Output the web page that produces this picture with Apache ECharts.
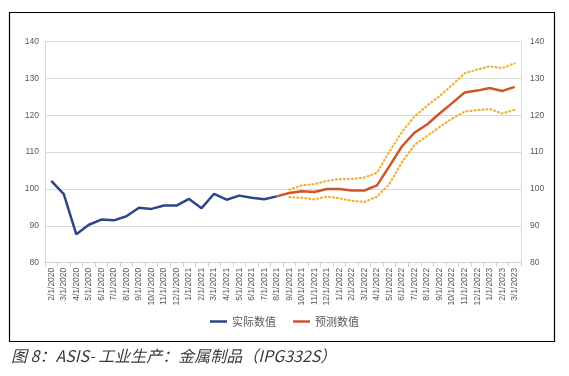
<!DOCTYPE html>
<html>
<head>
<meta charset="utf-8">
<script src="https://cdn.jsdelivr.net/npm/echarts@6/dist/echarts.min.js"></script>
<style>
  html, body { margin: 0; padding: 0; background: #fff; }
  #main { width: 569px; height: 376px; }
</style>
</head>
<body>
<div id="main"></div>
<script>
const months = [
  '2/1/2020', '3/1/2020', '4/1/2020', '5/1/2020', '6/1/2020', '7/1/2020', '8/1/2020', '9/1/2020',
  '10/1/2020', '11/1/2020', '12/1/2020', '1/1/2021', '2/1/2021', '3/1/2021', '4/1/2021', '5/1/2021',
  '6/1/2021', '7/1/2021', '8/1/2021', '9/1/2021', '10/1/2021', '11/1/2021', '12/1/2021', '1/1/2022',
  '2/1/2022', '3/1/2022', '4/1/2022', '5/1/2022', '6/1/2022', '7/1/2022', '8/1/2022', '9/1/2022',
  '10/1/2022', '11/1/2022', '12/1/2022', '1/1/2023', '2/1/2023', '3/1/2023'
]

// 实际数值 (2/2020 - 8/2021)
const actual = [
  102.2, 98.6, 87.7, 90.3, 91.7, 91.5, 92.6, 94.9, 94.6, 95.5, 95.5, 97.3, 94.8, 98.7, 97.1, 98.2,
  97.6, 97.2, 98.0, null, null, null, null, null, null, null, null, null, null, null, null, null,
  null, null, null, null, null, null
]

// 预测数值 (8/2021 - 3/2023)
const forecast = [
  null, null, null, null, null, null, null, null, null, null, null, null, null, null, null, null,
  null, null, 98.0, 98.9, 99.4, 99.2, 100.0, 100.0, 99.6, 99.6, 101.0, 106.2, 111.6, 115.3, 117.5, 120.5,
  123.3, 126.2, 126.7, 127.4, 126.6, 127.7
]

const upper = [
  null, null, null, null, null, null, null, null, null, null, null, null, null, null, null, null,
  null, null, null, 99.8, 101.0, 101.3, 102.2, 102.7, 102.7, 103.1, 104.4, 110.2, 115.5, 119.7, 122.6, 125.2,
  128.2, 131.4, 132.4, 133.3, 132.8, 134.1
]

const lower = [
  null, null, null, null, null, null, null, null, null, null, null, null, null, null, null, null,
  null, null, null, 97.8, 97.6, 97.2, 97.9, 97.5, 96.8, 96.5, 97.9, 101.4, 107.3, 112.0, 114.4, 116.8,
  119.1, 121.0, 121.4, 121.7, 120.5, 121.5
]

const chart = echarts.init(document.getElementById('main'))

const axisLabelStyle = {
  color: '#595959',
  fontSize: 8.5,
  fontFamily: 'Liberation Sans'
}

const option = {
  animation: false,
  title: {
    text: '图 8：ASIS- 工业生产：金属制品（IPG332S）',
    left: 6,
    top: 343,
    textStyle: {
      fontSize: 16,
      fontStyle: 'italic',
      fontWeight: 'normal',
      color: '#3a3a3a',
      fontFamily: 'Noto Sans CJK SC'
    }
  },
  graphic: [
    {
      type: 'rect',
      shape: { x: 9.5, y: 12.5, width: 545, height: 329 },
      style: { fill: null, stroke: '#000', lineWidth: 1.2 },
      silent: true
    }
  ],
  legend: {
    data: ['实际数值', '预测数值'],
    left: 'center',
    top: 311,
    icon: 'rect',
    itemWidth: 17,
    itemHeight: 2.5,
    itemGap: 17,
    textStyle: { fontSize: 11, color: '#595959', fontFamily: 'Noto Sans CJK SC' }
  },
  grid: {
    left: 45,
    right: 48,
    top: 41.6,
    bottom: 113.3
  },
  xAxis: {
    type: 'category',
    data: months,
    boundaryGap: true,
    axisLine: { lineStyle: { color: '#d0d0d0' } },
    axisTick: { show: true, length: 4, lineStyle: { color: '#d0d0d0' } },
    axisLabel: Object.assign({ rotate: 90, interval: 0, margin: 5 }, axisLabelStyle)
  },
  yAxis: [
    {
      type: 'value',
      min: 80,
      max: 140,
      interval: 10,
      position: 'left',
      axisLine: { show: true, lineStyle: { color: '#d9d9d9' } },
      axisTick: { show: false },
      splitLine: { lineStyle: { color: '#d9d9d9', width: 1.2 } },
      axisLabel: Object.assign({ margin: 6 }, axisLabelStyle)
    },
    {
      type: 'value',
      min: 80,
      max: 140,
      interval: 10,
      position: 'right',
      axisLine: { show: true, lineStyle: { color: '#d9d9d9' } },
      axisTick: { show: false },
      splitLine: { show: false },
      axisLabel: Object.assign({ margin: 9 }, axisLabelStyle)
    }
  ],
  series: [
    {
      name: '实际数值',
      type: 'line',
      data: actual,
      symbol: 'none',
      lineStyle: { color: '#2a4788', width: 2.5 },
      itemStyle: { color: '#2a4788' }
    },
    {
      name: '预测数值',
      type: 'line',
      data: forecast,
      symbol: 'none',
      lineStyle: { color: '#d0562a', width: 2.5 },
      itemStyle: { color: '#d0562a' }
    },
    {
      name: '上限',
      type: 'line',
      data: upper,
      symbol: 'none',
      lineStyle: { color: '#f0b235', width: 2.2, type: [1, 3], cap: 'round' }
    },
    {
      name: '下限',
      type: 'line',
      data: lower,
      symbol: 'none',
      lineStyle: { color: '#f0b235', width: 2.2, type: [1, 3], cap: 'round' }
    }
  ]
}

option && chart.setOption(option)
</script>
</body>
</html>
